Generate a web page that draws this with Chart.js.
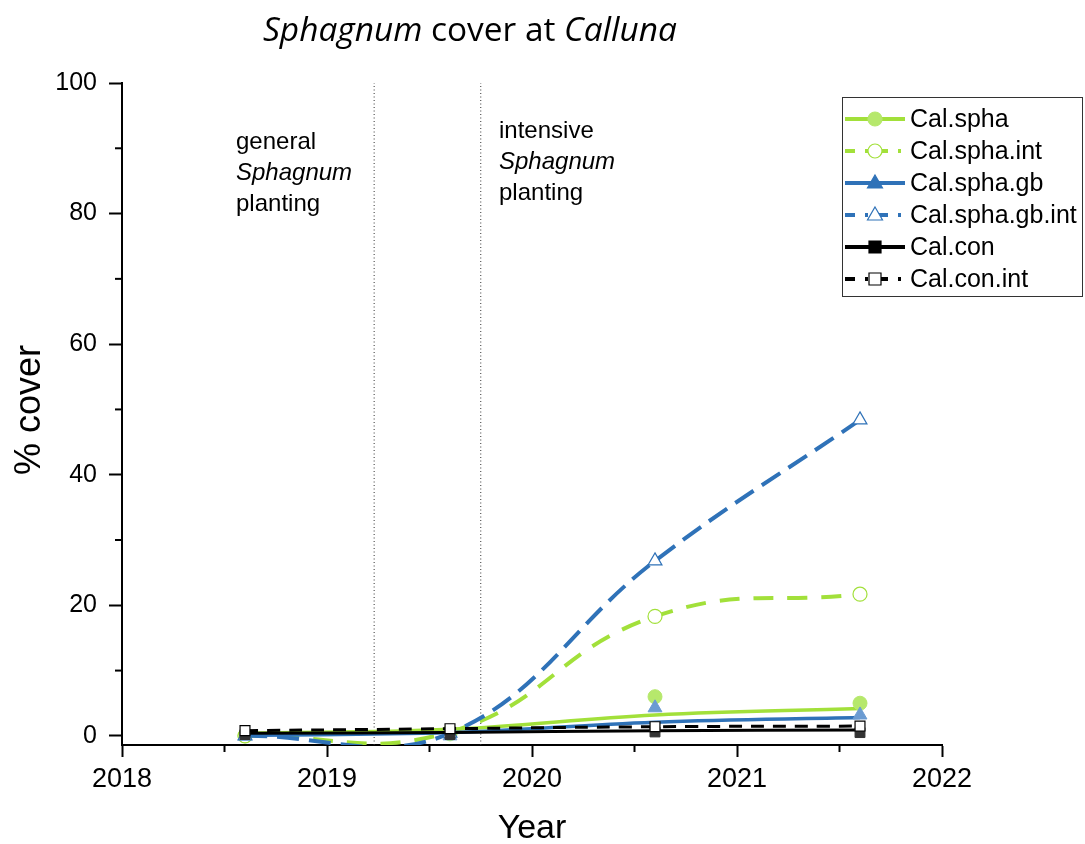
<!DOCTYPE html>
<html>
<head>
<meta charset="utf-8">
<script src="https://cdn.jsdelivr.net/npm/chart.js@4/dist/chart.umd.min.js"></script>
<style>
html,body{margin:0;padding:0;background:#fff;}
#wrap{width:1085px;height:844px;position:relative;}
</style>
</head>
<body>
<div id="wrap"><canvas id="c" width="1085" height="844"></canvas></div>
<script>
// ---- data ----
const years = [2018.6, 2019.6, 2020.6, 2021.6];
const calSpha      = [0.0, 0.3, 6.0, 5.0];
const calSphaInt   = [0.0, 0.6, 18.3, 21.7];
const calSphaGb    = [0.0, 0.0, 4.3, 3.2];
const calSphaGbInt = [0.0, 0.4, 26.8, 48.4];
const calCon       = [0.2, 0.2, 0.6, 0.5];
const calConInt    = [0.8, 1.1, 1.4, 1.5];
// trend lines drawn for the non-intensive series
const calSphaFit   = [0.4, 1.0, 3.2, 4.2];
const calSphaGbFit = [0.1, 0.5, 2.1, 2.8];
const calConFit    = [0.4, 0.5, 0.8, 0.9];
const plantingYears = [2019.23, 2019.75];
const xTickValues = [2018, 2019, 2020, 2021, 2022];
const yTickValues = [0, 20, 40, 60, 80, 100];
const xMinorTicks = [2018.5, 2019.5, 2020.5, 2021.5];
const yMinorTicks = [10, 30, 50, 70, 90];
const seriesNames = ['Cal.spha', 'Cal.spha.int', 'Cal.spha.gb', 'Cal.spha.gb.int', 'Cal.con', 'Cal.con.int'];

const pts = (arr) => years.map((x, i) => ({x: x, y: arr[i]}));

const GREEN = '#a2e03a';
const GREEN_M = '#b6e86c';
const BLUE = '#2f72b8';
const BLUE_M = '#6b9bd2';
const BLACK = '#000000';
const SANS = '"Liberation Sans", Arial, sans-serif';

const legendStyles = [
  {name: seriesNames[0], color: GREEN, dash: [], marker: 'circle', fill: GREEN_M, stroke: GREEN_M},
  {name: seriesNames[1], color: GREEN, dash: [10, 10, 3, 10], marker: 'circle', fill: '#fff', stroke: GREEN},
  {name: seriesNames[2], color: BLUE, dash: [], marker: 'triangle', fill: BLUE, stroke: BLUE},
  {name: seriesNames[3], color: BLUE, dash: [10, 10, 3, 10], marker: 'triangle', fill: '#fff', stroke: BLUE},
  {name: seriesNames[4], color: BLACK, dash: [], marker: 'rect', fill: BLACK, stroke: BLACK},
  {name: seriesNames[5], color: BLACK, dash: [10, 10, 3, 10], marker: 'rect', fill: '#fff', stroke: BLACK}
];

const datasets = [
  ...plantingYears.map(x => ({
    label: 'planting', data: [{x: x, y: -1.4}, {x: x, y: 100}],
    borderColor: '#333', borderWidth: 1, borderDash: [1, 2.5], pointRadius: 0, order: 20
  })),
  {label: 'Cal.spha fit', data: pts(calSphaFit), borderColor: GREEN, borderWidth: 3.5, pointRadius: 0, tension: 0.4, order: 12},
  {label: seriesNames[0], data: pts(calSpha), showLine: false, pointStyle: 'circle', pointRadius: 7,
   backgroundColor: GREEN_M, borderColor: GREEN_M, borderWidth: 1, order: 11},
  {label: seriesNames[1], data: pts(calSphaInt), borderColor: GREEN, borderWidth: 4, borderDash: [20, 14],
   tension: 0.45, capBezierPoints: false, pointStyle: 'circle', pointRadius: 7, pointBackgroundColor: '#fff', pointBorderColor: GREEN,
   pointBorderWidth: 1.2, order: 10},
  {label: 'Cal.spha.gb fit', data: pts(calSphaGbFit), borderColor: BLUE, borderWidth: 3.5, pointRadius: 0, tension: 0.4, order: 9},
  {label: seriesNames[2], data: pts(calSphaGb), showLine: false, pointStyle: 'triangle', pointRadius: 8,
   backgroundColor: BLUE_M, borderColor: BLUE_M, borderWidth: 1, order: 8},
  {label: seriesNames[3], data: pts(calSphaGbInt), borderColor: BLUE, borderWidth: 4, borderDash: [22, 10],
   tension: 0.4, capBezierPoints: false, pointStyle: 'triangle', pointRadius: 8, pointBackgroundColor: '#fff', pointBorderColor: BLUE,
   pointBorderWidth: 1.2, order: 7},
  {label: 'Cal.con fit', data: pts(calConFit), borderColor: BLACK, borderWidth: 3, pointRadius: 0, tension: 0.4, order: 6},
  {label: seriesNames[4], data: pts(calCon), showLine: false, pointStyle: 'rect', pointRadius: 7,
   backgroundColor: '#333', borderColor: '#333', borderWidth: 1, order: 5},
  {label: seriesNames[5], data: pts(calConInt), borderColor: BLACK, borderWidth: 3, borderDash: [13, 9],
   tension: 0.4, pointStyle: 'rect', pointRadius: 7, pointBackgroundColor: '#fff', pointBorderColor: BLACK,
   pointBorderWidth: 1.2, order: 4}
];

function drawMarker(ctx, type, x, y, fill, stroke) {
  ctx.save();
  ctx.setLineDash([]);
  ctx.fillStyle = fill; ctx.strokeStyle = stroke; ctx.lineWidth = 1.2;
  ctx.beginPath();
  if (type === 'circle') { ctx.arc(x, y, 7, 0, Math.PI * 2); }
  else if (type === 'triangle') { ctx.moveTo(x, y - 8); ctx.lineTo(x + 7.5, y + 5); ctx.lineTo(x - 7.5, y + 5); ctx.closePath(); }
  else { ctx.rect(x - 6, y - 6, 12, 12); }
  ctx.fill(); ctx.stroke();
  ctx.restore();
}

const decor = {
  id: 'decor',
  afterDraw(chart) {
    const ctx = chart.ctx;
    const xs = chart.scales.x, ys = chart.scales.y;
    const area = chart.chartArea;
    ctx.save();
    ctx.strokeStyle = '#000'; ctx.lineWidth = 2; ctx.setLineDash([]);
    yMinorTicks.forEach(v => { const p = ys.getPixelForValue(v); ctx.beginPath(); ctx.moveTo(area.left - 7, p); ctx.lineTo(area.left, p); ctx.stroke(); });
    xMinorTicks.forEach(v => { const p = xs.getPixelForValue(v); ctx.beginPath(); ctx.moveTo(p, area.bottom); ctx.lineTo(p, area.bottom + 7); ctx.stroke(); });

    // title, fitted to the reference width
    ctx.fillStyle = '#000';
    ctx.textBaseline = 'middle';
    const parts = [['Sphagnum', true], [' cover at ', false], ['Calluna', true]];
    const tf = (it, sz) => (it ? 'italic ' : '') + sz + 'px "Open Sans", "Noto Sans", sans-serif';
    let w100 = 0; parts.forEach(p => { ctx.font = tf(p[1], 100); w100 += ctx.measureText(p[0]).width; });
    const tsize = 100 * 414 / w100;
    let tx = 263;
    ctx.textAlign = 'left';
    parts.forEach(p => { ctx.font = tf(p[1], tsize); ctx.fillText(p[0], tx, 31); tx += ctx.measureText(p[0]).width; });

    // axis titles
    ctx.font = '34px ' + SANS;
    ctx.textAlign = 'center';
    ctx.fillText('Year', (area.left + area.right) / 2, 829);
    ctx.font = '36px ' + SANS;
    ctx.save(); ctx.translate(30, 410); ctx.rotate(-Math.PI / 2); ctx.fillText('% cover', 0, 0); ctx.restore();

    // annotations
    ctx.textAlign = 'left';
    const ann = (x, y0, first) => {
      ctx.font = '24px ' + SANS; ctx.fillText(first, x, y0);
      ctx.font = 'italic 24px ' + SANS; ctx.fillText('Sphagnum', x, y0 + 31);
      ctx.font = '24px ' + SANS; ctx.fillText('planting', x, y0 + 62);
    };
    ann(236, 142, 'general');
    ann(499, 131, 'intensive');

    // legend
    const lx = 842, ly = 97, lw = 240, lh = 199;
    ctx.fillStyle = '#fff'; ctx.fillRect(lx, ly, lw, lh);
    ctx.strokeStyle = '#333'; ctx.lineWidth = 1; ctx.strokeRect(lx + 0.5, ly + 0.5, lw, lh);
    legendStyles.forEach((s, i) => {
      const y = 119 + i * 32;
      ctx.save();
      ctx.strokeStyle = s.color; ctx.lineWidth = 4; ctx.setLineDash(s.dash);
      ctx.beginPath(); ctx.moveTo(845, y); ctx.lineTo(905, y); ctx.stroke();
      ctx.restore();
      drawMarker(ctx, s.marker, 875, y, s.fill, s.stroke);
      ctx.fillStyle = '#000'; ctx.font = '25px ' + SANS; ctx.textAlign = 'left'; ctx.textBaseline = 'middle';
      ctx.fillText(s.name, 910, y + 1);
    });
    ctx.restore();
  }
};

new Chart(document.getElementById('c'), {
  type: 'line',
  data: {datasets: datasets},
  options: {
    responsive: false,
    animation: false,
    layout: {padding: {top: 83, right: 143, left: 0, bottom: 0}},
    plugins: {legend: {display: false}, tooltip: {enabled: false}, title: {display: false}},
    scales: {
      x: {
        type: 'linear', min: 2018, max: 2022,
        afterBuildTicks: (s) => { s.ticks = xTickValues.map(v => ({value: v})); },
        afterFit: (s) => { s.height = 99; },
        grid: {drawOnChartArea: false, drawTicks: true, tickLength: 12, tickWidth: 2, tickColor: '#000'},
        border: {display: true, color: '#000', width: 2},
        ticks: {color: '#000', font: {family: SANS, size: 27}, padding: 6, maxRotation: 0,
                callback: (v) => String(v)}
      },
      y: {
        type: 'linear', min: -1.4, max: 100,
        afterBuildTicks: (s) => { s.ticks = yTickValues.map(v => ({value: v})); },
        afterFit: (s) => { s.width = 122; },
        grid: {drawOnChartArea: false, drawTicks: true, tickLength: 13, tickWidth: 2, tickColor: '#000'},
        border: {display: true, color: '#000', width: 2},
        ticks: {color: '#000', font: {family: SANS, size: 25}, padding: 12, callback: (v) => String(v)}
      }
    }
  },
  plugins: [decor]
});
</script>
</body>
</html>
